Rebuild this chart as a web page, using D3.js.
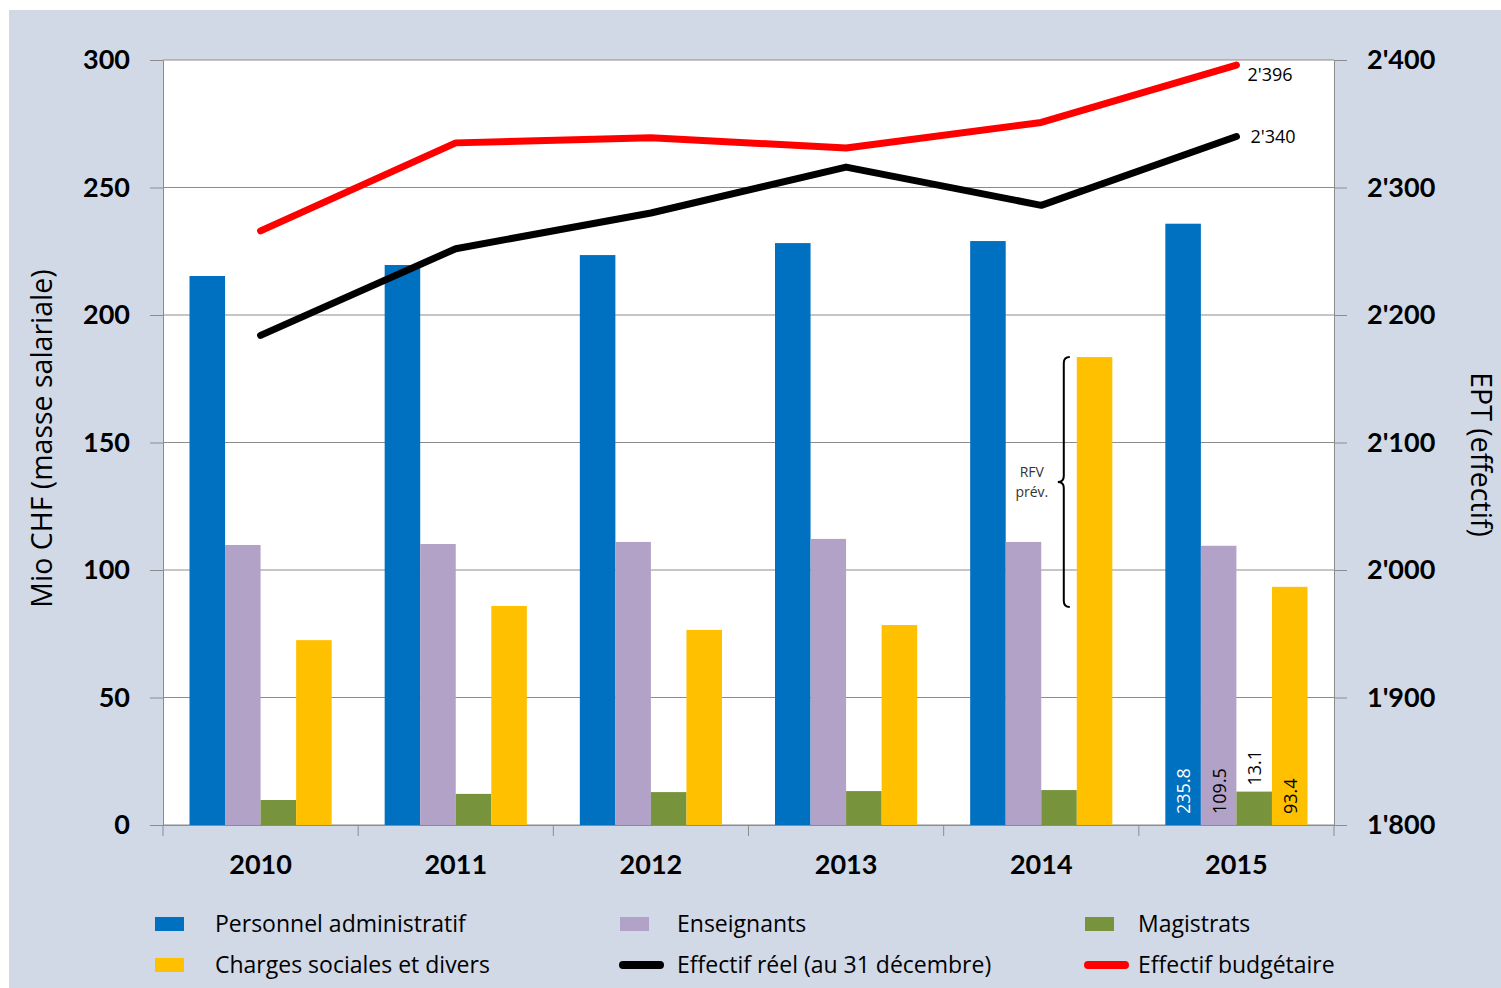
<!DOCTYPE html>
<meta charset="utf-8">
<style>
  body { margin: 0; background: #fff; }
  svg { display: block; font-family: "Open Sans", Lato, sans-serif; }
  .tick text { fill: #000; font-family: Lato, sans-serif; }
</style>
<body>
<script src="https://d3js.org/d3.v7.min.js"></script>
<script>

// categories
var years = ["2010", "2011", "2012", "2013", "2014", "2015"];

// bar series (Mio CHF)
var seriesNames = ["Personnel administratif", "Enseignants", "Magistrats", "Charges sociales et divers"];
var admin = [215.3, 219.6, 223.5, 228.2, 229.0, 235.8];
var enseignants = [109.8, 110.2, 111.0, 112.2, 111.0, 109.5];
var magistrats = [9.8, 12.2, 12.9, 13.3, 13.7, 13.1];
var charges = [72.5, 85.9, 76.5, 78.4, 183.5, 93.4];

// line series (EPT)
var effReel = [2184, 2252, 2280, 2316, 2286, 2340];
var effBudget = [2266, 2335, 2339, 2331, 2351, 2396];

// axis ticks
var leftTicks = [0, 50, 100, 150, 200, 250, 300];
var rightTicks = [1800, 1900, 2000, 2100, 2200, 2300, 2400];

// bracket for 2014 RFV prév. (Mio CHF)
var rfvRange = [85.5, 183.5];

var colors = ["#0070C0", "#B3A2C7", "#77933C", "#FFC000"];
var lineColors = ["#000000", "#FF0000"];

var W = 1501, H = 988;
var margin = {top: 60, right: 167, bottom: 163, left: 163};
var width = W - margin.left - margin.right,
    height = H - margin.top - margin.bottom;

var fmt = d3.formatLocale({decimal: ".", thousands: "'", grouping: [3], currency: ["", ""]}).format(",d");

var svg = d3.select("body").append("svg")
    .attr("width", W)
    .attr("height", H);

// background panel
svg.append("rect")
    .attr("x", 9).attr("y", 10)
    .attr("width", W - 9).attr("height", H - 10)
    .attr("fill", "#D1D9E7");

var g = svg.append("g")
    .attr("transform", "translate(" + margin.left + "," + margin.top + ")");

g.append("rect")
    .attr("width", width).attr("height", height)
    .attr("fill", "#fff");

var x0 = d3.scaleBand().domain(years).range([0, width]).paddingInner(0).paddingOuter(0);
var x1 = d3.scaleBand().domain(d3.range(4)).range([26.5, x0.bandwidth() - 26.5]);
var y = d3.scaleLinear().domain([0, 300]).range([height, 0]);
var y2 = d3.scaleLinear().domain([1800, 2400]).range([height, 0]);

// gridlines
g.append("g")
  .selectAll("line")
  .data(leftTicks)
  .join("line")
    .attr("x1", 0).attr("x2", width)
    .attr("y1", function(d) { return y(d); })
    .attr("y2", function(d) { return y(d); })
    .attr("stroke", "#8c8c8c")
    .attr("stroke-width", 1);

// bars
var barData = [admin, enseignants, magistrats, charges];
years.forEach(function(yr, i) {
  var grp = g.append("g").attr("transform", "translate(" + x0(yr) + ",0)");
  barData.forEach(function(s, k) {
    grp.append("rect")
      .attr("x", x1(k))
      .attr("y", y(s[i]))
      .attr("width", x1.bandwidth())
      .attr("height", height - y(s[i]))
      .attr("fill", colors[k]);
  });
});

// value labels for 2015
var last = years.length - 1;
var lg = g.append("g").attr("transform", "translate(" + x0(years[last]) + ",0)");
barData.forEach(function(s, k) {
  var cx = x1(k) + x1.bandwidth() / 2;
  var by = k === 2 ? y(s[last]) - 6 : height - 11;
  lg.append("text")
    .attr("transform", "translate(" + (cx + 7) + "," + by + ") rotate(-90)")
    .attr("font-size", 18)
    .attr("fill", k === 0 ? "#fff" : "#000")
    .text(s[last].toFixed(1));
});

// axes
var axLeft = g.append("g")
    .call(d3.axisLeft(y).tickValues(leftTicks).tickSize(13).tickPadding(20));
axLeft.selectAll("text").attr("font-size", 27).attr("font-weight", "bold");

var axRight = g.append("g")
    .attr("transform", "translate(" + width + ",0)")
    .call(d3.axisRight(y2).tickValues(rightTicks).tickSize(13).tickFormat(fmt).tickPadding(20));
axRight.selectAll("text").attr("font-size", 27).attr("font-weight", "bold");

var axBottom = g.append("g")
    .attr("transform", "translate(0," + height + ")")
    .call(d3.axisBottom(x0).tickSize(0).tickPadding(30));
axBottom.selectAll("text").attr("font-size", 27).attr("font-weight", "bold");
// category separators
g.append("g")
  .selectAll("line")
  .data(d3.range(years.length + 1))
  .join("line")
    .attr("x1", function(d) { return d * x0.bandwidth(); })
    .attr("x2", function(d) { return d * x0.bandwidth(); })
    .attr("y1", height).attr("y2", height + 11)
    .attr("stroke", "#8c8c8c");

g.selectAll(".domain").attr("stroke", "#8c8c8c");
g.selectAll(".tick line").attr("stroke", "#8c8c8c");

// lines
var line = d3.line()
    .x(function(d, i) { return x0(years[i]) + x0.bandwidth() / 2; })
    .y(function(d) { return y2(d); });

[effReel, effBudget].forEach(function(s, k) {
  g.append("path")
    .datum(s)
    .attr("fill", "none")
    .attr("stroke", lineColors[k])
    .attr("stroke-width", 7)
    .attr("stroke-linecap", "round")
    .attr("stroke-linejoin", "round")
    .attr("d", line);
  g.append("text")
    .attr("x", x0(years[last]) + x0.bandwidth() / 2 + (k === 0 ? 14 : 11))
    .attr("y", y2(s[last]) + (k === 0 ? 6 : 16))
    .attr("font-size", 18)
    .text(fmt(s[last]));
});

// RFV bracket on 2014
var bx = x0("2014") + x1(3) - 17;
var yt = y(rfvRange[1]), yb = y(rfvRange[0]), ym = (yt + yb) / 2;
g.append("path")
  .attr("d", "M" + (bx + 10) + "," + yt + " q-6,0 -6,6 L" + (bx + 4) + "," + (ym - 6) +
             " q0,6 -6,6 q6,0 6,6 L" + (bx + 4) + "," + (yb - 6) + " q0,6 6,6")
  .attr("fill", "none")
  .attr("stroke", "#000")
  .attr("stroke-width", 2);
g.append("text")
  .attr("x", bx - 28).attr("y", ym - 5)
  .attr("text-anchor", "middle")
  .attr("font-size", 14)
  .attr("fill", "#333")
  .text("RFV");
g.append("text")
  .attr("x", bx - 28).attr("y", ym + 15)
  .attr("text-anchor", "middle")
  .attr("font-size", 14)
  .attr("fill", "#333")
  .text("prév.");

// axis titles
svg.append("text")
  .attr("transform", "translate(52," + (margin.top + height / 2 - 4) + ") rotate(-90)")
  .attr("text-anchor", "middle")
  .attr("font-size", 28.5)
  .text("Mio CHF (masse salariale)");
svg.append("text")
  .attr("transform", "translate(1471," + (margin.top + height / 2 + 12) + ") rotate(90)")
  .attr("text-anchor", "middle")
  .attr("font-size", 28.5)
  .text("EPT (effectif)");

// legend
var legendItems = [
  {name: seriesNames[0], type: "bar", color: colors[0]},
  {name: seriesNames[1], type: "bar", color: colors[1]},
  {name: seriesNames[2], type: "bar", color: colors[2]},
  {name: seriesNames[3], type: "bar", color: colors[3]},
  {name: "Effectif réel (au 31 décembre)", type: "line", color: lineColors[0]},
  {name: "Effectif budgétaire", type: "line", color: lineColors[1]}
];
var colX = [155, 620, 1085];
var textX = [215, 677, 1138];
var rowY = [924, 965];
legendItems.forEach(function(d, i) {
  var lx = colX[i % 3], ly = rowY[Math.floor(i / 3)];
  if (d.type === "bar") {
    svg.append("rect")
      .attr("x", lx).attr("y", ly - 7)
      .attr("width", 29).attr("height", 14)
      .attr("fill", d.color);
  } else {
    svg.append("line")
      .attr("x1", lx + 3).attr("x2", lx + 40)
      .attr("y1", ly).attr("y2", ly)
      .attr("stroke", d.color)
      .attr("stroke-width", 8)
      .attr("stroke-linecap", "round");
  }
  svg.append("text")
    .attr("x", textX[i % 3]).attr("y", ly + 8)
    .attr("font-size", 23)
    .text(d.name);
});

</script>
</body>
